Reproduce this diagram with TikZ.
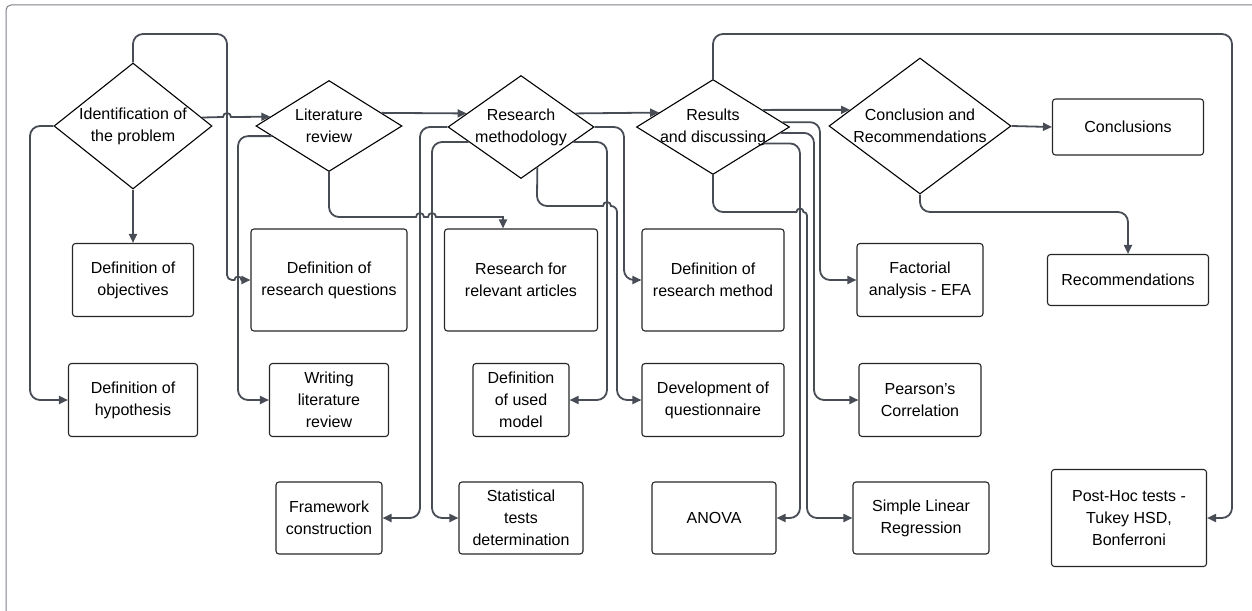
\documentclass[tikz,border=0pt]{standalone}
\usepackage{fontspec}
\setmainfont{Liberation Sans}
\usetikzlibrary{shapes.geometric,arrows.meta,calc}
\definecolor{linec}{HTML}{474C55}
\definecolor{framec}{HTML}{7B7F85}
\newcommand{\boxfont}{\fontsize{16}{22}\selectfont}
\tikzset{
  box/.style={rectangle, draw=black!85, line width=1.1pt, rounded corners=3pt, align=center, font=\boxfont, inner sep=0pt},
  dec/.style={diamond, draw=black, line width=1.1pt, align=center, font=\boxfont, inner sep=-12pt, shape aspect=1.5},
  arr/.style={-{Triangle[length=9pt,width=8pt]}, draw=linec, line width=1.8pt, rounded corners=10pt}
}

\begin{document}
\begin{tikzpicture}[x=1pt,y=-1pt]
\useasboundingbox (0,0) rectangle (1252,610);
\begin{scope}
\clip (0,0) rectangle (1252,610);
\draw[framec, line width=1pt, rounded corners=5pt] (6,5) rectangle (1290,650);
\end{scope}

\node[dec, minimum width=158pt, minimum height=126pt] (ident) at (133,126) {Identification of\\the problem};
\node[dec, minimum width=146pt, minimum height=91pt] (litrev) at (329,126) {Literature\\review};
\node[dec, minimum width=146pt, minimum height=103pt] (method) at (521,127) {Research\\methodology};
\node[dec, minimum width=153pt, minimum height=95pt] (results) at (713,127) {Results\\and discussing};
\node[dec, minimum width=182pt, minimum height=136pt] (concl) at (920,126) {Conclusion and\\Recommendations};
\node[box, minimum width=151pt, minimum height=56pt] (conclusions) at (1128,127) {Conclusions};

\node[box, minimum width=121pt, minimum height=73pt] (objectives) at (133,280) {Definition of\\objectives};
\node[box, minimum width=156pt, minimum height=102pt] (questions) at (329,280) {Definition of\\research questions};
\node[box, minimum width=153pt, minimum height=102pt] (articles) at (521,280) {Research for\\relevant articles};
\node[box, minimum width=142pt, minimum height=102pt] (resmethod) at (713,280) {Definition of\\research method};
\node[box, minimum width=126pt, minimum height=73pt] (factorial) at (920,280) {Factorial\\analysis - EFA};
\node[box, minimum width=161pt, minimum height=51pt] (recommend) at (1128,280) {Recommendations};

\node[box, minimum width=129pt, minimum height=73pt] (hypothesis) at (133,400) {Definition of\\hypothesis};
\node[box, minimum width=119pt, minimum height=73pt] (writing) at (329,400) {Writing\\literature\\review};
\node[box, minimum width=96pt, minimum height=73pt] (usedmodel) at (521,400) {Definition\\of used\\model};
\node[box, minimum width=142pt, minimum height=73pt] (questionnaire) at (713,400) {Development of\\questionnaire};
\node[box, minimum width=122pt, minimum height=73pt] (pearson) at (920,400) {Pearson’s\\Correlation};

\node[box, minimum width=106pt, minimum height=72pt] (framework) at (329,518) {Framework\\construction};
\node[box, minimum width=124pt, minimum height=72pt] (stattests) at (521,518) {Statistical\\tests\\determination};
\node[box, minimum width=124pt, minimum height=72pt] (anova) at (714,518) {ANOVA};
\node[box, minimum width=136pt, minimum height=72pt] (regression) at (921,518) {Simple Linear\\Regression};
\node[box, minimum width=155pt, minimum height=97pt] (posthoc) at (1129,518) {Post-Hoc tests -\\Tukey HSD,\\Bonferroni};

\draw[arr, sharp corners] (ident.7.6) -- (223,117) arc[start angle=180, end angle=0, radius=4pt] -- (litrev.171.3);
\draw[arr] (litrev.14) -- (method.166.6);
\draw[arr] (method.14.7) -- (results.165.5);
\draw[arr] (results.19.1) -- (concl.167.1);
\draw[arr] (concl.east) -- (conclusions.west);

\draw[arr] (ident.south) -- (objectives.north);
\draw[arr] (ident.west) -| (30,400) -- (hypothesis.west);
\draw[arr, sharp corners] (ident.north) -- (133,44) arc[start angle=180, end angle=90, radius=10pt] -- (217,34) arc[start angle=90, end angle=0, radius=10pt] -- (227,275) arc[start angle=180, end angle=270, radius=5pt] -- (234.5,280) arc[start angle=180, end angle=0, radius=3.5pt] -- (questions.west);
\draw[arr] (litrev.190) -| (238,400) -- (writing.west);
\draw[arr, sharp corners] (litrev.south) -- (329,207) arc[start angle=180, end angle=270, radius=10pt] -- (416,217) arc[start angle=180, end angle=0, radius=4pt] -- (428,217) arc[start angle=180, end angle=0, radius=4pt] -- (503,217) -- ($(articles.north)+(-18,0)$);

\draw[arr] (method.west) -| (420,518) -- (framework.east);
\draw[arr] (method.196) -| (432,518) -- (stattests.west);
\draw[arr] (method.east) -| (624,280) -- (resmethod.west);
\draw[arr] (method.344) -| (607,400) -- (usedmodel.east);
\draw[arr, sharp corners] (method.292) -- (537,196) arc[start angle=180, end angle=270, radius=10pt] -- (603,206) arc[start angle=180, end angle=0, radius=4pt] -- (611,206) arc[start angle=90, end angle=0, radius=6pt] -- (617,390) arc[start angle=180, end angle=270, radius=10pt] -- (questionnaire.west);

\draw[arr] (results.4.2) -| (820,280) -- (factorial.west);
\draw[arr] (results.355.8) -| (814,400) -- (pearson.west);
\draw[arr] (results.342.5) -| (800,518) -- (anova.east);
\draw[arr, sharp corners] (results.south) -- (713,202) arc[start angle=180, end angle=270, radius=10pt] -- (796.5,212) arc[start angle=180, end angle=0, radius=3.5pt] arc[start angle=90, end angle=0, radius=3.5pt] -- (807,508) arc[start angle=180, end angle=270, radius=10pt] -- (regression.west);
\draw[arr] (results.north) |- (1232,34) |- (posthoc.east);
\draw[arr] (concl.south) |- (1128,212) -- (recommend.north);
\end{tikzpicture}
\end{document}
